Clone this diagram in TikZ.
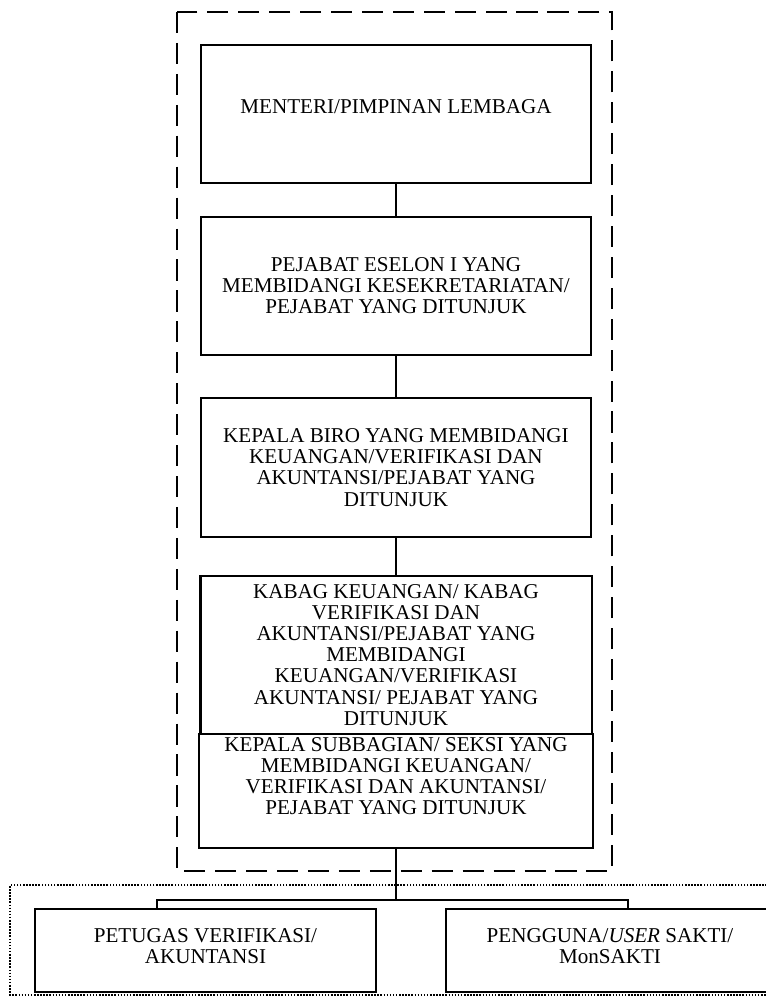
\documentclass[tikz,border=0pt]{standalone}
\usepackage{fontspec}
\setmainfont{Liberation Serif}

\begin{document}
\begin{tikzpicture}[x=0.025cm,y=-0.025cm,
	box/.style={draw,line width=1.5pt,align=center,inner sep=0pt,font=\fontsize{15}{15}\selectfont},
	link/.style={line width=1.3pt},
	frame/.style={line width=1.8pt,dash pattern=on 15pt off 7pt},
	dots/.style={line width=1.5pt,dash pattern=on 1.1pt off 1.1pt}]
			\useasboundingbox (0,0) rectangle (765,997);
			\draw[frame] (177,12) rectangle (612,871);
			\draw[dots] (900,885) -- (10,885) -- (10,995) -- (900,995);
			\node[box, minimum width=9.75cm, minimum height=3.45cm, text depth=10pt] (menteri) at (396,114) {MENTERI/PIMPINAN LEMBAGA};
			\node[box, minimum width=9.75cm, minimum height=3.45cm] (eselon) at (396,286) {PEJABAT ESELON I YANG\\MEMBIDANGI KESEKRETARIATAN/\\PEJABAT YANG DITUNJUK};
			\node[box, minimum width=9.75cm, minimum height=3.475cm] (biro) at (396,467.5) {KEPALA BIRO YANG MEMBIDANGI\\KEUANGAN/VERIFIKASI DAN\\AKUNTANSI/PEJABAT YANG\\DITUNJUK};
			\node[box, minimum width=9.775cm, minimum height=3.95cm] (kabag) at (396,655) {KABAG KEUANGAN/ KABAG\\VERIFIKASI DAN\\AKUNTANSI/PEJABAT YANG\\MEMBIDANGI\\KEUANGAN/VERIFIKASI\\AKUNTANSI/ PEJABAT YANG\\DITUNJUK};
			\node[box, minimum width=9.85cm, minimum height=2.85cm, text depth=21pt] (subbag) at (396,791) {KEPALA SUBBAGIAN/ SEKSI YANG\\MEMBIDANGI KEUANGAN/\\VERIFIKASI DAN AKUNTANSI/\\PEJABAT YANG DITUNJUK};
			\node[box, minimum width=8.525cm, minimum height=2.075cm, text depth=7pt] (petugas) at (205.5,950.5) {PETUGAS VERIFIKASI/\\AKUNTANSI};
			\node[box, minimum width=8.2cm, minimum height=2.075cm, text depth=7pt] (pengguna) at (610,950.5) {PENGGUNA/\textit{USER} SAKTI/\\MonSAKTI};
			\coordinate (fork) at (396,900);
			\coordinate (lend) at (157,900);
			\coordinate (rend) at (628,900);
			\draw[link] (menteri) -- (eselon);
			\draw[link] (eselon) -- (biro);
			\draw[link] (biro) -- (kabag);
			\draw[link] (subbag) -- (fork);
			\draw[link] (petugas.north -| lend) -- (lend) -- (rend) -- (pengguna.north -| rend);
		\end{tikzpicture}
\end{document}
